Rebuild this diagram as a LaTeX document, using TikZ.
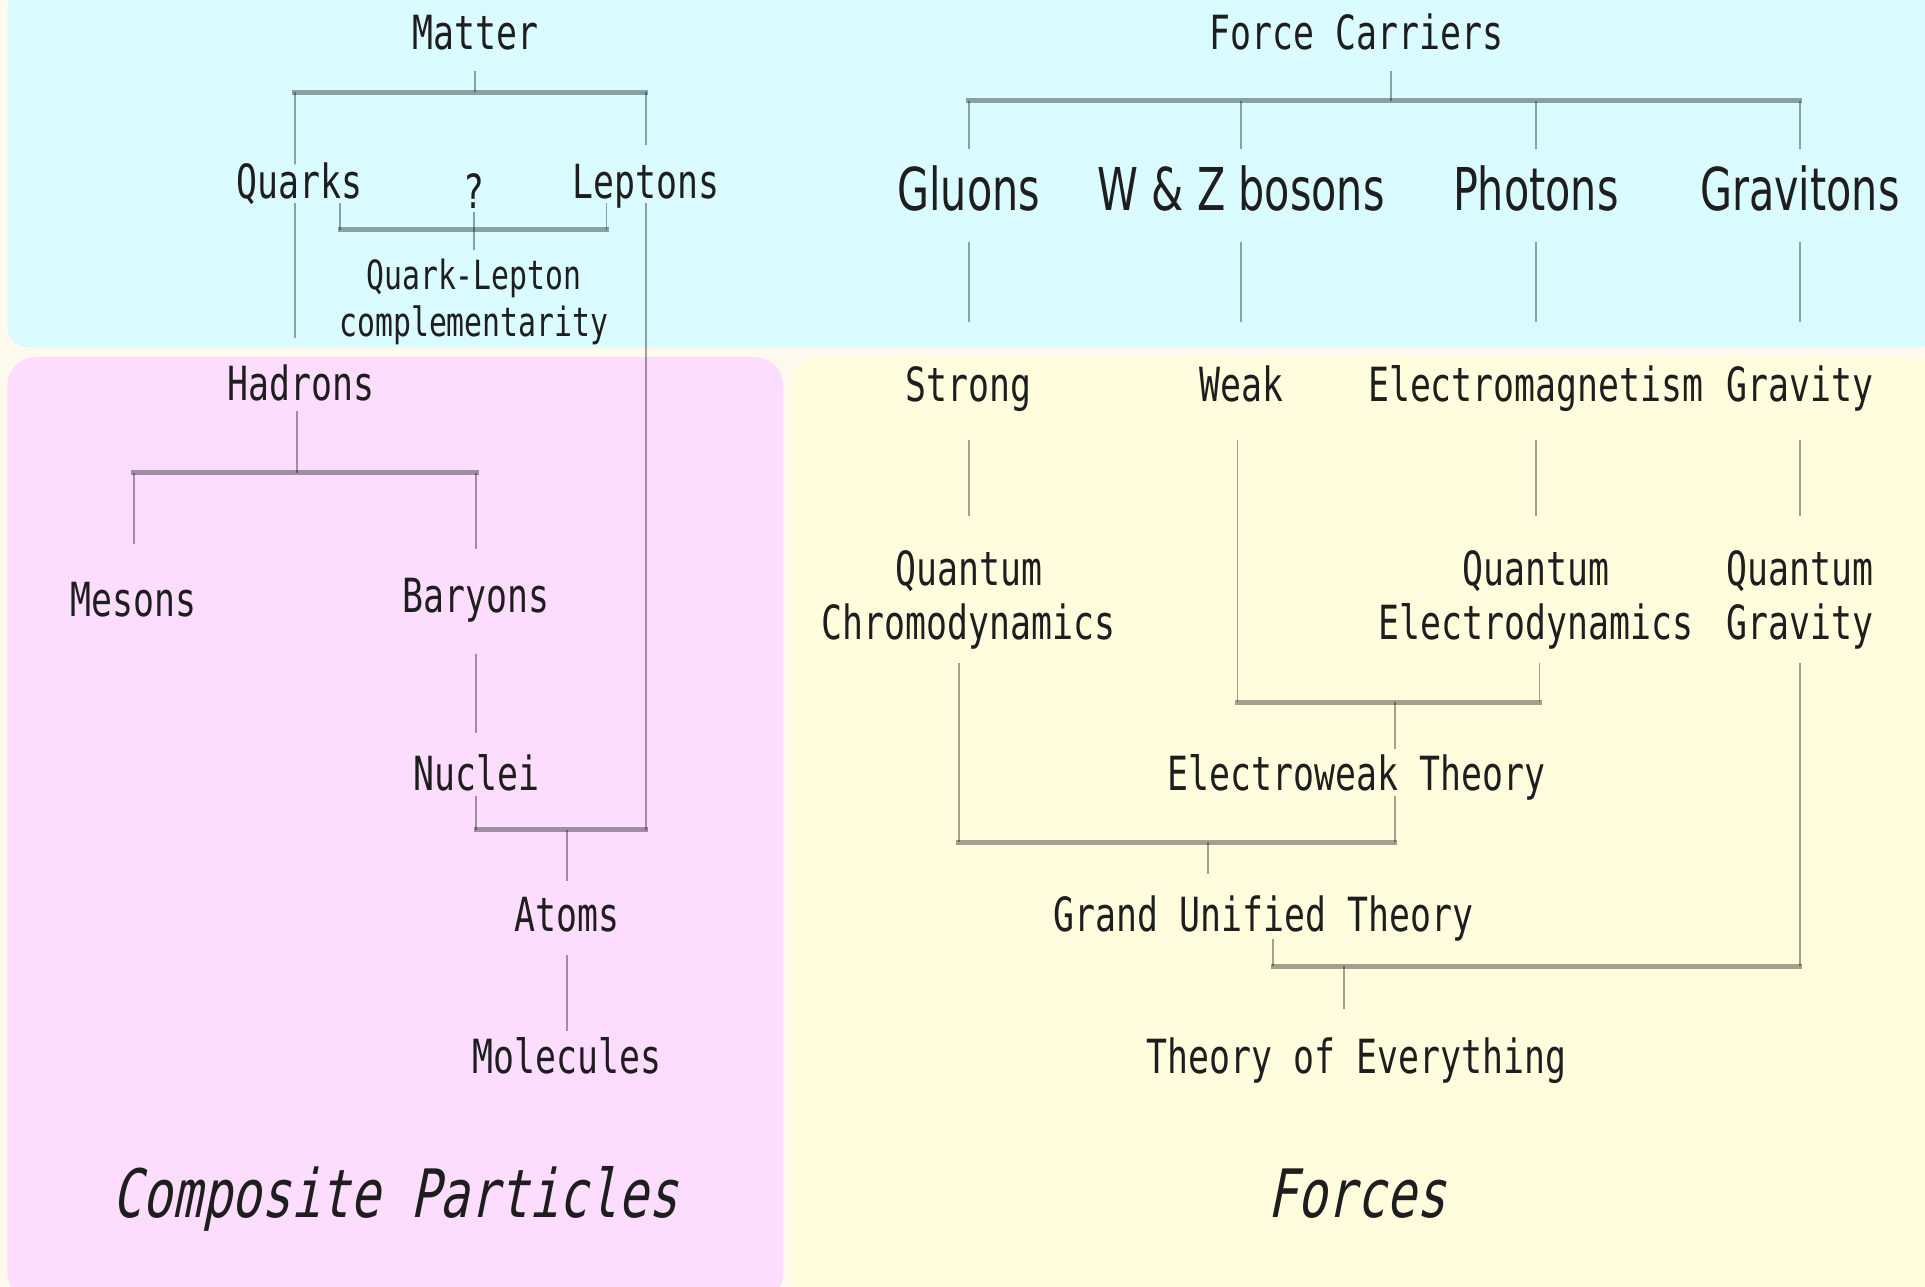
\documentclass[tikz,border=0pt]{standalone}
\usepackage{fontspec}
\usetikzlibrary{calc}
\newfontfamily\gothic[FakeStretch=0.74]{DejaVu Sans Mono}
\newfontfamily\gothicit[FakeStretch=0.74, FakeSlant=0.2]{DejaVu Sans Mono}
\newfontfamily\bosonfont[FakeStretch=0.70]{DejaVu Sans}
\definecolor{cInk}{HTML}{1E1E1E}
\definecolor{cPage}{HTML}{FFF9EE}
\definecolor{cSky}{HTML}{DAFBFF}
\definecolor{cRose}{HTML}{FDDDFD}
\definecolor{cCream}{HTML}{FFFDDE}
\tikzset{
  lbl/.style={font=\gothic\fontsize{13.4}{15.4}\selectfont, text=cInk, inner sep=0pt,
              outer sep=0pt, align=center, text height=9.8pt, text depth=0pt},
  lbltwo/.style={lbl, text height=25.2pt},
  small/.style={lbl, font=\gothic\fontsize{11.45}{13.3}\selectfont, text height=21.7pt},
  boson/.style={lbl, font=\bosonfont\fontsize{16.8}{18}\selectfont, text height=12.2pt},
  zonelbl/.style={lbl, font=\gothicit\fontsize{19}{21}\selectfont, text height=13.8pt},
  link/.style={draw=black, draw opacity=0.36, line width=0.55pt},
  bar/.style={link, line width=1.4pt, line cap=rect},
}

\begin{document}
\begin{tikzpicture}[x=0.012277cm, y=-0.012277cm]
  \useasboundingbox (0,0) rectangle (1568,1048);
  % ---- coloured zones
  \fill[cPage] (0,0) rectangle (1568,1048);
  \fill[cSky, rounded corners=6pt] (6,-12) rectangle (1580,283);
  \fill[cRose, rounded corners=8pt] (6,291) rectangle (638,1060);
  \fill[cCream, rounded corners=8pt] (644,291) rectangle (1580,1060);

  % ---- matter side
  \node[lbl] (matter) at (387,26) {Matter};
  \node[lbl] (quarks) at (244,148) {Quarks};
  \node[lbl] (leptons) at (526,148) {Leptons};
  \node[lbl] (qmark) at (386,156) {?};
  \node[small] (qlc) at (386,243) {Quark-Lepton\\complementarity};
  \node[lbl] (hadrons) at (245,312) {Hadrons};
  \node[lbl] (mesons) at (109,488) {Mesons};
  \node[lbl] (baryons) at (388,485) {Baryons};
  \node[lbl] (nuclei) at (388,630) {Nuclei};
  \node[lbl] (atoms) at (462,745) {Atoms};
  \node[lbl] (molecules) at (462,860) {Molecules};
  \node[zonelbl] (composite) at (322,972) {Composite Particles};

  % ---- force side
  \node[lbl] (fc) at (1105,26) {Force Carriers};
  \node[boson] (gluons) at (789,154) {Gluons};
  \node[boson] (wz) at (1011,154) {W \& Z bosons};
  \node[boson] (photons) at (1251,154) {Photons};
  \node[boson] (gravitons) at (1466,154) {Gravitons};
  \node[lbl] (strong) at (789,313) {Strong};
  \node[lbl] (weak) at (1011,313) {Weak};
  \node[lbl] (em) at (1251,313) {Electromagnetism};
  \node[lbl] (gravity) at (1466,313) {Gravity};
  \node[lbltwo] (qcd) at (789,485) {Quantum\\Chromodynamics};
  \node[lbltwo] (qed) at (1251,485) {Quantum\\Electrodynamics};
  \node[lbltwo] (qg) at (1466,485) {Quantum\\Gravity};
  \node[lbl] (ew) at (1105,630) {Electroweak Theory};
  \node[lbl] (gut) at (1029,745) {Grand Unified Theory};
  \node[lbl] (toe) at (1105,860) {Theory of Everything};
  \node[zonelbl] (forces) at (1105,972) {Forces};

  % ---- junctions
  \coordinate (jMat) at (387,75);
  \coordinate (jQL) at (386,187);
  \coordinate (jHad) at (242,385);
  \coordinate (jAtom) at (462,676);
  \coordinate (jFC) at (1133,82);
  \coordinate (jEW) at (1136,572);
  \coordinate (jGUT) at (984,686);
  \coordinate (jTOE) at (1095,787);
  \coordinate (qL) at ($(quarks.south)+(-4,3)$);
  \coordinate (qlL) at ($(quarks.south)+(33,3)$);
  \coordinate (qlR) at ($(leptons.south)+(-32,3)$);
  \coordinate (qcdL) at ($(qcd.south)+(-8,19)$);
  \coordinate (ewR) at ($(ew.south)+(31,4)$);
  \coordinate (gutR) at ($(gut.south)+(8,6)$);

  % ---- matter tree
  \draw[link] ($(matter.south)+(0,18)$) -- (jMat);
  \draw[bar] (qL |- jMat) -- (leptons |- jMat);
  \draw[link] (qL |- jMat) -- (qL |- quarks.north) -- ++(0,-16);
  \draw[link] (leptons |- jMat) -- ($(leptons.north)+(0,-16)$);
  \draw[link] (qlL) -- (qlL |- jQL);
  \draw[link] (qlR) -- (qlR |- jQL);
  \draw[bar] (qlL |- jQL) -- (qlR |- jQL);
  \draw[link] ($(qmark.south)+(0,3)$) -- (jQL) -- ($(qlc.north)+(0,-8)$);
  \draw[link] (qL) -- ($(qL |- hadrons.north)+(0,-23)$);
  \draw[link] ($(leptons.south)+(0,3)$) -- (leptons |- jAtom);
  \draw[link] ($(hadrons.south)+(-3,9)$) -- (jHad);
  \draw[bar] (mesons |- jHad) -- (baryons |- jHad);
  \foreach \n/\g in {mesons/31, baryons/24}
    \draw[link] (\n |- jHad) -- ($(\n.north)+(0,-\g)$);
  \draw[link] ($(baryons.south)+(0,34)$) -- ($(nuclei.north)+(0,-19)$);
  \draw[link] ($(nuclei.south)+(0,4)$) -- (nuclei |- jAtom);
  \draw[bar] (nuclei |- jAtom) -- (leptons |- jAtom);
  \draw[link] (jAtom) -- ($(atoms.north)+(0,-13)$);
  \draw[link] ($(atoms.south)+(0,19)$) -- ($(molecules.north)+(0,-6)$);

  % ---- force tree
  \draw[link] ($(fc.south)+(28,18)$) -- (jFC);
  \draw[bar] (gluons |- jFC) -- (gravitons |- jFC);
  \foreach \n in {gluons, wz, photons, gravitons}
    \draw[link] (\n |- jFC) -- ($(\n.north)+(0,-15)$);
  \foreach \a/\b in {gluons/strong, wz/weak, photons/em, gravitons/gravity}
    \draw[link] ($(\a.south)+(0,26)$) -- ($(\b.north)+(0,-37)$);
  \foreach \a/\b in {strong/qcd, em/qed, gravity/qg}
    \draw[link] ($(\a.south)+(0,31)$) -- ($(\b.north)+(0,-29)$);
  \draw[link] ($(weak.south)+(-3,31)$) -- ($(weak |- jEW)+(-3,0)$);
  \draw[link] ($(qed.south)+(3,19)$) -- ($(qed |- jEW)+(3,0)$);
  \draw[bar] ($(weak |- jEW)+(-3,0)$) -- ($(qed |- jEW)+(3,0)$);
  \draw[link] (jEW) -- ($(ew.north)+(31,-6)$);
  \draw[link] (qcdL) -- (qcdL |- jGUT);
  \draw[link] (ewR) -- (ewR |- jGUT);
  \draw[bar] (qcdL |- jGUT) -- (ewR |- jGUT);
  \draw[link] (jGUT) -- ($(gut.north)+(-45,-19)$);
  \draw[link] (gutR) -- (gutR |- jTOE);
  \draw[link] ($(qg.south)+(0,19)$) -- (qg |- jTOE);
  \draw[bar] (gutR |- jTOE) -- (qg |- jTOE);
  \draw[link] (jTOE) -- ($(toe.north)+(-10,-24)$);
\end{tikzpicture}
\end{document}
